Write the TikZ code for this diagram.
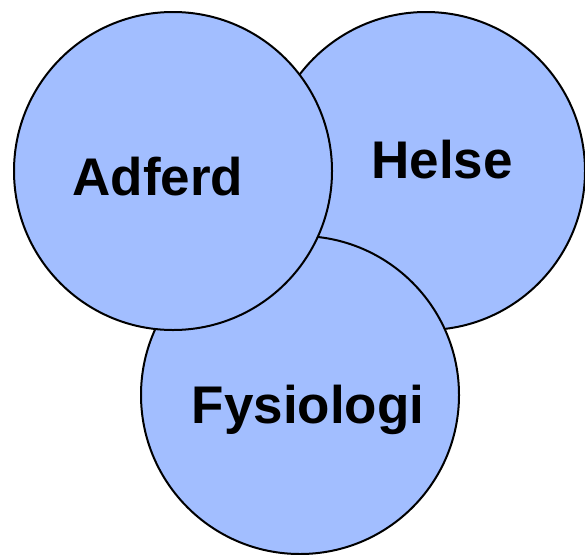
\documentclass[tikz,border=0pt]{standalone}
\usepackage{fontspec}
\setmainfont{Liberation Sans}
\definecolor{bubblefill}{RGB}{162,190,255}
\begin{document}
\begin{tikzpicture}[
		x=1pt, y=-1pt,
		bubble/.style={circle, draw=black, line width=2pt, fill=bubblefill, inner sep=0pt, minimum size=318pt},
		word/.style={anchor=base, font=\fontsize{53}{60}\selectfont\bfseries}
	]
	\useasboundingbox (0,0) rectangle (585,554);
	% circles, back to front
	\node[bubble] (helse) at (426,171) {};
	\node[bubble] (fysiologi) at (300,395) {};
	\node[bubble] (adferd) at (173,171) {};
	% labels
	\node[word] (adferdtext) at (158,195) {Adferd};
	\node[word] (helsetext) at (442,178) {Helse};
	\node[word] (fysiologitext) at (308,423) {Fysiologi};
\end{tikzpicture}
\end{document}
